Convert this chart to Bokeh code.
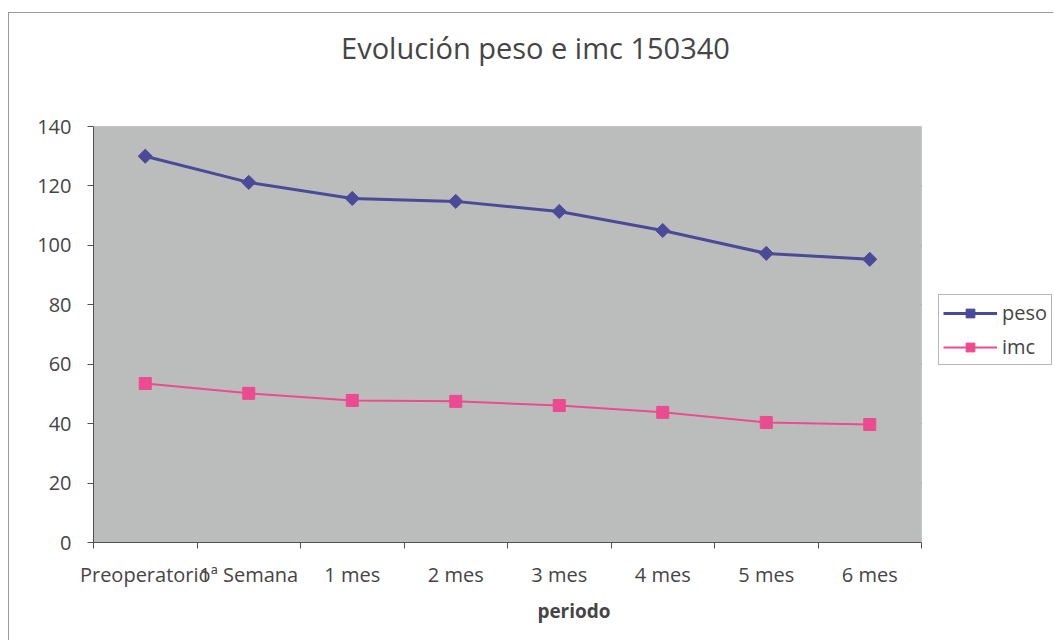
from bokeh.plotting import figure
from bokeh.models import (Range1d, FixedTicker, Legend, LegendItem, Label, BoxAnnotation)
from bokeh.embed import file_html
from bokeh.resources import INLINE
import numpy as np

categories = ["Preoperatorio", "1ª Semana", "1 mes", "2 mes", "3 mes", "4 mes", "5 mes", "6 mes"]
peso = [130, 121.2, 115.8, 114.8, 111.4, 105, 97.3, 95.3]
imc = [53.5, 50.2, 47.8, 47.5, 46.1, 43.8, 40.4, 39.7]
y_ticks = [0, 20, 40, 60, 80, 100, 120, 140]
title_text = "Evolución peso e imc 150340"

FONT = "Open Sans"
TXT = "#454545"
PESO_C = "#4B4A98"
IMC_C = "#EC4B8F"

n = len(categories)
ymax = y_ticks[-1]
xs = list(np.arange(n) + 0.5)

# layout in pixels (figure coordinates)
W, H = 1045, 628
BL, BR, BT, BB = 84, 0, 0, 99
DATA_W, DATA_H = 828, 416          # pixel size of the gray plot area
frame_w = W - BL - BR
frame_h = H - BT - BB
x_end = n * frame_w / DATA_W       # room on the right for the legend
y_end = ymax * frame_h / DATA_H    # room at the top for the title
px_x = n / DATA_W                  # data units per pixel
px_y = ymax / DATA_H

p = figure(width=W, height=H, output_backend="svg", toolbar_location=None,
           x_range=Range1d(0, x_end), y_range=Range1d(0, y_end),
           min_border_left=BL, min_border_right=BR, min_border_top=BT, min_border_bottom=BB,
           background_fill_color="white", border_fill_color="white")
p.margin = (12, 0, 0, 8)
p.styles = {"border-left": "1px solid #9a9a9a", "border-top": "1px solid #9a9a9a"}
p.outline_line_color = None

# gray plot area limited to the category region
p.add_layout(BoxAnnotation(left=0, right=n, bottom=0, top=ymax, level="underlay",
                           fill_color="#BBBDBD", fill_alpha=1,
                           line_color="#8a8a8a", line_width=1))

# title
p.add_layout(Label(x=442 * px_x, y=(DATA_H + 79) * px_y, text=title_text,
                   text_align="center", text_baseline="middle",
                   text_font=FONT, text_font_size="29px", text_color=TXT))

# axes
xa = p.xaxis[0]
xa.bounds = (0, n)
xa.ticker = FixedTicker(ticks=xs, minor_ticks=list(range(n + 1)))
xa.major_label_overrides = {float(x): c for x, c in zip(xs, categories)}
xa.major_tick_out = 0
xa.major_tick_in = 0
xa.minor_tick_out = 6
xa.minor_tick_in = 0
xa.minor_tick_line_color = "#505050"
xa.axis_line_color = "#505050"
xa.major_label_text_font = FONT
xa.major_label_text_font_size = "20px"
xa.major_label_text_color = TXT
xa.major_label_standoff = 12
xa.axis_label = "periodo"
xa.axis_label_text_font = FONT
xa.axis_label_text_font_size = "19px"
xa.axis_label_text_font_style = "bold"
xa.axis_label_text_color = TXT
xa.axis_label_standoff = 7

ya = p.yaxis[0]
ya.bounds = (0, ymax)
ya.ticker = FixedTicker(ticks=y_ticks, minor_ticks=[])
ya.major_tick_out = 6
ya.major_tick_in = 0
ya.major_tick_line_color = "#505050"
ya.axis_line_color = "#505050"
ya.major_label_text_font = FONT
ya.major_label_text_font_size = "20px"
ya.major_label_text_color = TXT
ya.major_label_standoff = 16

p.grid.visible = False
gy = y_ticks[1:-1]
p.segment(x0=[0] * len(gy), x1=[n] * len(gy), y0=gy, y1=gy,
          line_color="#3a3a3a", line_width=1, level="underlay")

l1 = p.line(xs, peso, line_color=PESO_C, line_width=3)
m1 = p.scatter(xs, peso, marker="square", angle=np.pi / 4, size=10,
               fill_color=PESO_C, line_color=PESO_C)
l2 = p.line(xs, imc, line_color=IMC_C, line_width=2)
m2 = p.scatter(xs, imc, marker="square", size=12, fill_color=IMC_C, line_color=IMC_C)

legend = Legend(items=[LegendItem(label="peso", renderers=[l1, m1]),
                       LegendItem(label="imc", renderers=[l2, m2])],
                location=(845, 177), orientation="vertical",
                label_text_font=FONT, label_text_font_size="20px", label_text_color=TXT,
                glyph_width=54, glyph_height=22, label_height=22, spacing=7,
                padding=4, margin=0, label_standoff=5,
                border_line_color="#707070", border_line_width=1,
                background_fill_color="white", background_fill_alpha=1)
p.add_layout(legend, "center")

open("out.html", "w").write(file_html(p, INLINE))
